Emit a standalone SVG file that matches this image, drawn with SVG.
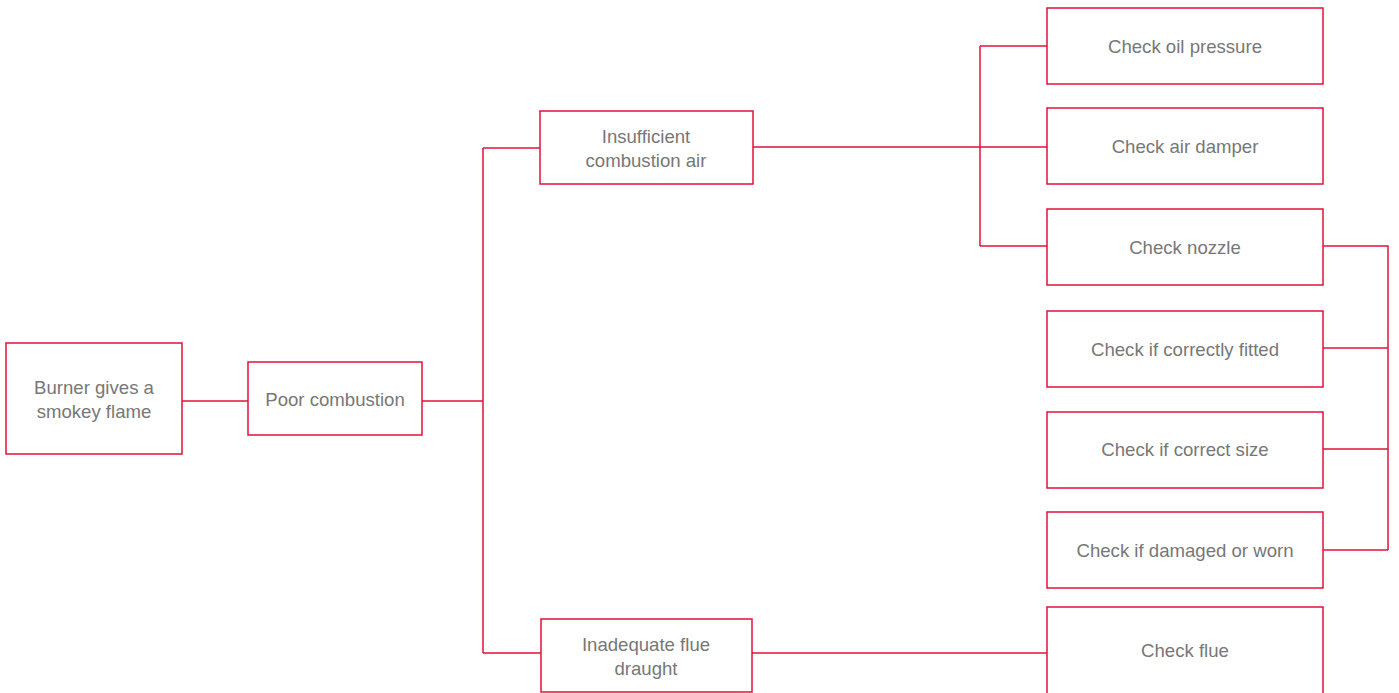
<svg xmlns="http://www.w3.org/2000/svg" width="1399" height="693" viewBox="0 0 1399 693">
<style>
.box{fill:#fff;stroke:#e3103a;stroke-width:1.5}
.c{fill:none;stroke:#e3103a;stroke-width:1.5}
text{font-family:"Liberation Sans",Arial,sans-serif;font-size:18.6px;fill:#777;text-anchor:middle}
</style>
<rect width="1399" height="693" fill="#fff"/>
<g id="connectors">
<path class="c" d="M182 401H248"/>
<path class="c" d="M422 401H483M483 148V653M483 148H540M483 653H541"/>
<path class="c" d="M753 147H1047M980 46V246M980 46H1047M980 246H1047"/>
<path class="c" d="M1323 246H1388V550M1323 348H1388M1323 449H1388M1323 550H1388"/>
<path class="c" d="M752 653H1047"/>
</g>
<g id="n1"><rect class="box" x="6" y="343" width="176" height="111"/><text x="94" y="394">Burner gives a</text><text x="94" y="418">smokey flame</text></g>
<g id="n2"><rect class="box" x="248" y="362" width="174" height="73"/><text x="335" y="406">Poor combustion</text></g>
<g id="n3"><rect class="box" x="540" y="111" width="213" height="73"/><text x="646" y="143">Insufficient</text><text x="646" y="167">combustion air</text></g>
<g id="n4"><rect class="box" x="541" y="619" width="211" height="73"/><text x="646" y="651">Inadequate flue</text><text x="646" y="675">draught</text></g>
<g id="n5"><rect class="box" x="1047" y="8" width="276" height="76"/><text x="1185" y="53">Check oil pressure</text></g>
<g id="n6"><rect class="box" x="1047" y="108" width="276" height="76"/><text x="1185" y="153">Check air damper</text></g>
<g id="n7"><rect class="box" x="1047" y="209" width="276" height="76"/><text x="1185" y="254">Check nozzle</text></g>
<g id="n8"><rect class="box" x="1047" y="311" width="276" height="76"/><text x="1185" y="356">Check if correctly fitted</text></g>
<g id="n9"><rect class="box" x="1047" y="412" width="276" height="76"/><text x="1185" y="456">Check if correct size</text></g>
<g id="n10"><rect class="box" x="1047" y="512" width="276" height="76"/><text x="1185" y="557">Check if damaged or worn</text></g>
<g id="n11"><rect class="box" x="1047" y="607" width="276" height="90"/><text x="1185" y="657">Check flue</text></g>
</svg>
